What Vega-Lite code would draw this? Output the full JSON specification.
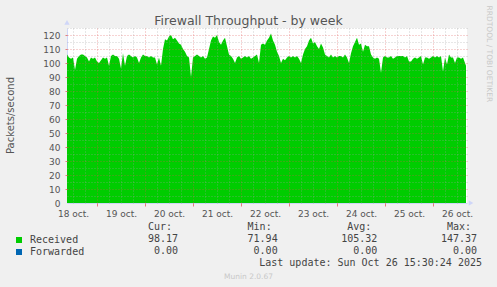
{
  "$schema": "https://vega.github.io/schema/vega-lite/v6.json",
  "width": 400,
  "height": 175,
  "autosize": "none",
  "padding": {"left": 67, "top": 28, "right": 30, "bottom": 84},
  "background": "#f0f0f0",
  "config": {
    "view": {"fill": "#ffffff", "stroke": null},
    "font": "DejaVu Sans",
    "axis": {"labelFont": "DejaVu Sans", "titleFont": "DejaVu Sans", "titleFontWeight": "normal"}
  },
  "datasets": {
    "rx": [
      {"t": "2025-10-18T09:00Z", "v": 106}, {"t": "2025-10-18T10:00Z", "v": 104}, {"t": "2025-10-18T11:00Z", "v": 103}, {"t": "2025-10-18T12:00Z", "v": 104}, {"t": "2025-10-18T13:00Z", "v": 95}, {"t": "2025-10-18T14:00Z", "v": 103}, {"t": "2025-10-18T15:00Z", "v": 105}, {"t": "2025-10-18T16:00Z", "v": 106}, {"t": "2025-10-18T17:00Z", "v": 106}, {"t": "2025-10-18T18:00Z", "v": 105}, {"t": "2025-10-18T19:00Z", "v": 104}, {"t": "2025-10-18T20:00Z", "v": 101}, {"t": "2025-10-18T21:00Z", "v": 104}, {"t": "2025-10-18T22:00Z", "v": 103}, {"t": "2025-10-18T23:00Z", "v": 104},
      {"t": "2025-10-19T00:00Z", "v": 101}, {"t": "2025-10-19T01:00Z", "v": 100}, {"t": "2025-10-19T02:00Z", "v": 102}, {"t": "2025-10-19T03:00Z", "v": 104}, {"t": "2025-10-19T04:00Z", "v": 103}, {"t": "2025-10-19T05:00Z", "v": 104}, {"t": "2025-10-19T06:00Z", "v": 98}, {"t": "2025-10-19T07:00Z", "v": 105}, {"t": "2025-10-19T08:00Z", "v": 106}, {"t": "2025-10-19T09:00Z", "v": 105}, {"t": "2025-10-19T10:00Z", "v": 105}, {"t": "2025-10-19T11:00Z", "v": 103}, {"t": "2025-10-19T12:00Z", "v": 96}, {"t": "2025-10-19T13:00Z", "v": 107}, {"t": "2025-10-19T14:00Z", "v": 98}, {"t": "2025-10-19T15:00Z", "v": 105}, {"t": "2025-10-19T16:00Z", "v": 106}, {"t": "2025-10-19T17:00Z", "v": 105}, {"t": "2025-10-19T18:00Z", "v": 104}, {"t": "2025-10-19T19:00Z", "v": 105}, {"t": "2025-10-19T20:00Z", "v": 104}, {"t": "2025-10-19T21:00Z", "v": 100}, {"t": "2025-10-19T22:00Z", "v": 104}, {"t": "2025-10-19T23:00Z", "v": 106},
      {"t": "2025-10-20T00:00Z", "v": 105}, {"t": "2025-10-20T01:00Z", "v": 105}, {"t": "2025-10-20T02:00Z", "v": 104}, {"t": "2025-10-20T03:00Z", "v": 105}, {"t": "2025-10-20T04:00Z", "v": 104}, {"t": "2025-10-20T05:00Z", "v": 104}, {"t": "2025-10-20T06:00Z", "v": 99}, {"t": "2025-10-20T07:00Z", "v": 104}, {"t": "2025-10-20T08:00Z", "v": 98}, {"t": "2025-10-20T09:00Z", "v": 110}, {"t": "2025-10-20T10:00Z", "v": 117}, {"t": "2025-10-20T11:00Z", "v": 116}, {"t": "2025-10-20T12:00Z", "v": 119}, {"t": "2025-10-20T13:00Z", "v": 120}, {"t": "2025-10-20T14:00Z", "v": 117}, {"t": "2025-10-20T15:00Z", "v": 118}, {"t": "2025-10-20T16:00Z", "v": 116}, {"t": "2025-10-20T17:00Z", "v": 114}, {"t": "2025-10-20T18:00Z", "v": 113}, {"t": "2025-10-20T19:00Z", "v": 110}, {"t": "2025-10-20T20:00Z", "v": 108}, {"t": "2025-10-20T21:00Z", "v": 105}, {"t": "2025-10-20T22:00Z", "v": 104}, {"t": "2025-10-20T23:00Z", "v": 90},
      {"t": "2025-10-21T00:00Z", "v": 104}, {"t": "2025-10-21T01:00Z", "v": 105}, {"t": "2025-10-21T02:00Z", "v": 106}, {"t": "2025-10-21T03:00Z", "v": 105}, {"t": "2025-10-21T04:00Z", "v": 104}, {"t": "2025-10-21T05:00Z", "v": 105}, {"t": "2025-10-21T06:00Z", "v": 103}, {"t": "2025-10-21T07:00Z", "v": 104}, {"t": "2025-10-21T08:00Z", "v": 110}, {"t": "2025-10-21T09:00Z", "v": 116}, {"t": "2025-10-21T10:00Z", "v": 119}, {"t": "2025-10-21T11:00Z", "v": 118}, {"t": "2025-10-21T12:00Z", "v": 120}, {"t": "2025-10-21T13:00Z", "v": 115}, {"t": "2025-10-21T14:00Z", "v": 113}, {"t": "2025-10-21T15:00Z", "v": 116}, {"t": "2025-10-21T16:00Z", "v": 118}, {"t": "2025-10-21T17:00Z", "v": 112}, {"t": "2025-10-21T18:00Z", "v": 106}, {"t": "2025-10-21T19:00Z", "v": 105}, {"t": "2025-10-21T20:00Z", "v": 103}, {"t": "2025-10-21T21:00Z", "v": 100}, {"t": "2025-10-21T22:00Z", "v": 104}, {"t": "2025-10-21T23:00Z", "v": 105},
      {"t": "2025-10-22T00:00Z", "v": 103}, {"t": "2025-10-22T01:00Z", "v": 104}, {"t": "2025-10-22T02:00Z", "v": 105}, {"t": "2025-10-22T03:00Z", "v": 104}, {"t": "2025-10-22T04:00Z", "v": 105}, {"t": "2025-10-22T05:00Z", "v": 103}, {"t": "2025-10-22T06:00Z", "v": 104}, {"t": "2025-10-22T07:00Z", "v": 105}, {"t": "2025-10-22T08:00Z", "v": 106}, {"t": "2025-10-22T09:00Z", "v": 100}, {"t": "2025-10-22T10:00Z", "v": 113}, {"t": "2025-10-22T11:00Z", "v": 114}, {"t": "2025-10-22T12:00Z", "v": 113}, {"t": "2025-10-22T13:00Z", "v": 116}, {"t": "2025-10-22T14:00Z", "v": 118}, {"t": "2025-10-22T15:00Z", "v": 121}, {"t": "2025-10-22T16:00Z", "v": 116}, {"t": "2025-10-22T17:00Z", "v": 113}, {"t": "2025-10-22T18:00Z", "v": 108}, {"t": "2025-10-22T19:00Z", "v": 105}, {"t": "2025-10-22T20:00Z", "v": 100}, {"t": "2025-10-22T21:00Z", "v": 103}, {"t": "2025-10-22T22:00Z", "v": 102}, {"t": "2025-10-22T23:00Z", "v": 104},
      {"t": "2025-10-23T00:00Z", "v": 105}, {"t": "2025-10-23T01:00Z", "v": 104}, {"t": "2025-10-23T02:00Z", "v": 105}, {"t": "2025-10-23T03:00Z", "v": 104}, {"t": "2025-10-23T04:00Z", "v": 105}, {"t": "2025-10-23T05:00Z", "v": 103}, {"t": "2025-10-23T06:00Z", "v": 100}, {"t": "2025-10-23T07:00Z", "v": 106}, {"t": "2025-10-23T08:00Z", "v": 110}, {"t": "2025-10-23T09:00Z", "v": 112}, {"t": "2025-10-23T10:00Z", "v": 116}, {"t": "2025-10-23T11:00Z", "v": 118}, {"t": "2025-10-23T12:00Z", "v": 114}, {"t": "2025-10-23T13:00Z", "v": 115}, {"t": "2025-10-23T14:00Z", "v": 112}, {"t": "2025-10-23T15:00Z", "v": 110}, {"t": "2025-10-23T16:00Z", "v": 114}, {"t": "2025-10-23T17:00Z", "v": 111}, {"t": "2025-10-23T18:00Z", "v": 106}, {"t": "2025-10-23T19:00Z", "v": 105}, {"t": "2025-10-23T20:00Z", "v": 104}, {"t": "2025-10-23T21:00Z", "v": 106}, {"t": "2025-10-23T22:00Z", "v": 104}, {"t": "2025-10-23T23:00Z", "v": 105},
      {"t": "2025-10-24T00:00Z", "v": 104}, {"t": "2025-10-24T01:00Z", "v": 105}, {"t": "2025-10-24T02:00Z", "v": 105}, {"t": "2025-10-24T03:00Z", "v": 104}, {"t": "2025-10-24T04:00Z", "v": 106}, {"t": "2025-10-24T05:00Z", "v": 104}, {"t": "2025-10-24T06:00Z", "v": 100}, {"t": "2025-10-24T07:00Z", "v": 107}, {"t": "2025-10-24T08:00Z", "v": 112}, {"t": "2025-10-24T09:00Z", "v": 115}, {"t": "2025-10-24T10:00Z", "v": 118}, {"t": "2025-10-24T11:00Z", "v": 113}, {"t": "2025-10-24T12:00Z", "v": 114}, {"t": "2025-10-24T13:00Z", "v": 108}, {"t": "2025-10-24T14:00Z", "v": 113}, {"t": "2025-10-24T15:00Z", "v": 112}, {"t": "2025-10-24T16:00Z", "v": 112}, {"t": "2025-10-24T17:00Z", "v": 106}, {"t": "2025-10-24T18:00Z", "v": 104}, {"t": "2025-10-24T19:00Z", "v": 103}, {"t": "2025-10-24T20:00Z", "v": 104}, {"t": "2025-10-24T21:00Z", "v": 103}, {"t": "2025-10-24T22:00Z", "v": 93}, {"t": "2025-10-24T23:00Z", "v": 104},
      {"t": "2025-10-25T00:00Z", "v": 105}, {"t": "2025-10-25T01:00Z", "v": 104}, {"t": "2025-10-25T02:00Z", "v": 104}, {"t": "2025-10-25T03:00Z", "v": 105}, {"t": "2025-10-25T04:00Z", "v": 103}, {"t": "2025-10-25T05:00Z", "v": 104}, {"t": "2025-10-25T06:00Z", "v": 105}, {"t": "2025-10-25T07:00Z", "v": 105}, {"t": "2025-10-25T08:00Z", "v": 105}, {"t": "2025-10-25T09:00Z", "v": 105}, {"t": "2025-10-25T10:00Z", "v": 104}, {"t": "2025-10-25T11:00Z", "v": 105}, {"t": "2025-10-25T12:00Z", "v": 101}, {"t": "2025-10-25T13:00Z", "v": 101}, {"t": "2025-10-25T14:00Z", "v": 103}, {"t": "2025-10-25T15:00Z", "v": 104}, {"t": "2025-10-25T16:00Z", "v": 103}, {"t": "2025-10-25T17:00Z", "v": 104}, {"t": "2025-10-25T18:00Z", "v": 105}, {"t": "2025-10-25T19:00Z", "v": 99}, {"t": "2025-10-25T20:00Z", "v": 104}, {"t": "2025-10-25T21:00Z", "v": 104}, {"t": "2025-10-25T22:00Z", "v": 103}, {"t": "2025-10-25T23:00Z", "v": 104},
      {"t": "2025-10-26T00:00Z", "v": 105}, {"t": "2025-10-26T01:00Z", "v": 104}, {"t": "2025-10-26T02:00Z", "v": 105}, {"t": "2025-10-26T03:00Z", "v": 104}, {"t": "2025-10-26T04:00Z", "v": 105}, {"t": "2025-10-26T05:00Z", "v": 94}, {"t": "2025-10-26T06:00Z", "v": 104}, {"t": "2025-10-26T07:00Z", "v": 99}, {"t": "2025-10-26T08:00Z", "v": 106}, {"t": "2025-10-26T09:00Z", "v": 104}, {"t": "2025-10-26T10:00Z", "v": 104}, {"t": "2025-10-26T11:00Z", "v": 100}, {"t": "2025-10-26T12:00Z", "v": 104}, {"t": "2025-10-26T13:00Z", "v": 104}, {"t": "2025-10-26T14:00Z", "v": 103}, {"t": "2025-10-26T15:00Z", "v": 104}, {"t": "2025-10-26T16:00Z", "v": 100}, {"t": "2025-10-26T16:30Z", "v": 98}
    ],
    "tbl": [
      {"row": "Received", "col": "Cur", "val": "98.17"},
      {"row": "Received", "col": "Min", "val": "71.94"},
      {"row": "Received", "col": "Avg", "val": "105.32"},
      {"row": "Received", "col": "Max", "val": "147.37"},
      {"row": "Forwarded", "col": "Cur", "val": "0.00"},
      {"row": "Forwarded", "col": "Min", "val": "0.00"},
      {"row": "Forwarded", "col": "Avg", "val": "0.00"},
      {"row": "Forwarded", "col": "Max", "val": "0.00"}
    ],
    "hdr": [
      {"col": "Cur", "h": "Cur:"},
      {"col": "Min", "h": "Min:"},
      {"col": "Avg", "h": "Avg:"},
      {"col": "Max", "h": "Max:"}
    ]
  },
  "layer": [
    {
      "data": {"name": "rx"},
      "mark": {"type": "area", "opacity": 1, "interpolate": "linear"},
      "encoding": {
        "x": {
          "field": "t", "type": "temporal",
          "scale": {"type": "utc", "domain": [{"year": 2025, "month": 10, "date": 18, "hours": 9, "utc": true}, {"year": 2025, "month": 10, "date": 26, "hours": 17, "utc": true}]},
          "axis": {
            "orient": "bottom",
            "values": [
              {"year": 2025, "month": 10, "date": 18, "hours": 12, "utc": true},
              {"year": 2025, "month": 10, "date": 19, "hours": 12, "utc": true},
              {"year": 2025, "month": 10, "date": 20, "hours": 12, "utc": true},
              {"year": 2025, "month": 10, "date": 21, "hours": 12, "utc": true},
              {"year": 2025, "month": 10, "date": 22, "hours": 12, "utc": true},
              {"year": 2025, "month": 10, "date": 23, "hours": 12, "utc": true},
              {"year": 2025, "month": 10, "date": 24, "hours": 12, "utc": true},
              {"year": 2025, "month": 10, "date": 25, "hours": 12, "utc": true},
              {"year": 2025, "month": 10, "date": 26, "hours": 12, "utc": true}
            ],
            "labelExpr": "utcFormat(datum.value, '%d') + ' oct.'",
            "labelFontSize": 9, "labelColor": "#555555", "labelPadding": 6,
            "labelFlush": false, "labelOverlap": false, "labelBound": false,
            "ticks": false, "grid": false, "domainColor": "#cfd6f8",
            "title": "Munin 2.0.67", "titleFontSize": 7.5, "titleColor": "#c8c8c8",
            "titleX": 181, "titleY": 73, "titleAlign": "center", "titleBaseline": "middle", "titleAngle": 0
          }
        },
        "y": {
          "field": "v", "type": "quantitative",
          "scale": {"domain": [0, 125], "nice": false, "zero": true},
          "axis": {
            "orient": "left",
            "values": [0, 10, 20, 30, 40, 50, 60, 70, 80, 90, 100, 110, 120],
            "labelFontSize": 9, "labelColor": "#555555", "labelPadding": 7,
            "ticks": false, "grid": false, "domainColor": "#cfd6f8",
            "title": "Packets/second", "titleFontSize": 10, "titleColor": "#555555",
            "titleX": -57, "titleY": 87, "titleAlign": "center", "titleBaseline": "middle", "titleAngle": -90
          }
        },
        "color": {
          "datum": "Received",
          "scale": {"domain": ["Received", "Forwarded"], "range": ["#00cc00", "#0066b3"]},
          "legend": {
            "orient": "none", "legendX": -53, "legendY": 207, "title": null,
            "direction": "vertical", "symbolType": "square", "symbolSize": 36,
            "symbolStrokeWidth": 0, "symbolOpacity": 1,
            "labelFont": "DejaVu Sans Mono", "labelFontSize": 10, "labelColor": "#444444",
            "labelOffset": 6, "rowPadding": 2, "padding": 0
          }
        }
      }
    },
    {
      "data": {"name": "rx"},
      "mark": {"type": "area", "opacity": 0},
      "encoding": {
        "x": {
          "field": "t", "type": "temporal",
          "scale": {"type": "utc", "domain": [{"year": 2025, "month": 10, "date": 18, "hours": 9, "utc": true}, {"year": 2025, "month": 10, "date": 26, "hours": 17, "utc": true}]},
          "axis": {
            "orient": "top",
            "values": [
              {"year": 2025, "month": 10, "date": 18, "hours": 12, "utc": true},
              {"year": 2025, "month": 10, "date": 18, "hours": 18, "utc": true},
              {"year": 2025, "month": 10, "date": 19, "hours": 6, "utc": true},
              {"year": 2025, "month": 10, "date": 19, "hours": 12, "utc": true},
              {"year": 2025, "month": 10, "date": 19, "hours": 18, "utc": true},
              {"year": 2025, "month": 10, "date": 20, "hours": 6, "utc": true},
              {"year": 2025, "month": 10, "date": 20, "hours": 12, "utc": true},
              {"year": 2025, "month": 10, "date": 20, "hours": 18, "utc": true},
              {"year": 2025, "month": 10, "date": 21, "hours": 6, "utc": true},
              {"year": 2025, "month": 10, "date": 21, "hours": 12, "utc": true},
              {"year": 2025, "month": 10, "date": 21, "hours": 18, "utc": true},
              {"year": 2025, "month": 10, "date": 22, "hours": 6, "utc": true},
              {"year": 2025, "month": 10, "date": 22, "hours": 12, "utc": true},
              {"year": 2025, "month": 10, "date": 22, "hours": 18, "utc": true},
              {"year": 2025, "month": 10, "date": 23, "hours": 6, "utc": true},
              {"year": 2025, "month": 10, "date": 23, "hours": 12, "utc": true},
              {"year": 2025, "month": 10, "date": 23, "hours": 18, "utc": true},
              {"year": 2025, "month": 10, "date": 24, "hours": 6, "utc": true},
              {"year": 2025, "month": 10, "date": 24, "hours": 12, "utc": true},
              {"year": 2025, "month": 10, "date": 24, "hours": 18, "utc": true},
              {"year": 2025, "month": 10, "date": 25, "hours": 6, "utc": true},
              {"year": 2025, "month": 10, "date": 25, "hours": 12, "utc": true},
              {"year": 2025, "month": 10, "date": 25, "hours": 18, "utc": true},
              {"year": 2025, "month": 10, "date": 26, "hours": 6, "utc": true},
              {"year": 2025, "month": 10, "date": 26, "hours": 12, "utc": true}
            ],
            "labels": false, "ticks": false, "domain": false,
            "grid": true, "gridColor": "#a0a0a0", "gridOpacity": 0.5, "gridDash": [1, 2], "zindex": 1,
            "title": "Firewall Throughput - by week", "titleFontSize": 12.5, "titleColor": "#555555",
            "titleX": 181, "titleY": -4, "titleAlign": "center", "titleBaseline": "alphabetic", "titleAngle": 0
          }
        },
        "y": {
          "field": "v", "type": "quantitative",
          "scale": {"domain": [0, 125], "nice": false, "zero": true},
          "axis": {
            "orient": "right",
            "values": [5, 15, 25, 35, 45, 55, 65, 75, 85, 95, 105, 115, 125],
            "labels": false, "ticks": false, "domain": false,
            "grid": true, "gridColor": "#a0a0a0", "gridOpacity": 0.5, "gridDash": [1, 2], "zindex": 1,
            "title": "RRDTOOL / TOBI OETIKER", "titleFontSize": 7.5, "titleColor": "#c8c8c8",
            "titleX": 21, "titleY": -23, "titleAlign": "left", "titleBaseline": "middle", "titleAngle": 90
          }
        }
      }
    },
    {
      "data": {"name": "rx"},
      "mark": {"type": "area", "opacity": 0},
      "encoding": {
        "x": {
          "field": "t", "type": "temporal",
          "scale": {"type": "utc", "domain": [{"year": 2025, "month": 10, "date": 18, "hours": 9, "utc": true}, {"year": 2025, "month": 10, "date": 26, "hours": 17, "utc": true}]},
          "axis": {
            "orient": "bottom",
            "values": [
              {"year": 2025, "month": 10, "date": 19, "utc": true},
              {"year": 2025, "month": 10, "date": 20, "utc": true},
              {"year": 2025, "month": 10, "date": 21, "utc": true},
              {"year": 2025, "month": 10, "date": 22, "utc": true},
              {"year": 2025, "month": 10, "date": 23, "utc": true},
              {"year": 2025, "month": 10, "date": 24, "utc": true},
              {"year": 2025, "month": 10, "date": 25, "utc": true},
              {"year": 2025, "month": 10, "date": 26, "utc": true}
            ],
            "labels": false, "domain": false,
            "ticks": true, "tickSize": 3, "tickColor": "#e06060", "tickOpacity": 0.8,
            "grid": true, "gridColor": "#e05050", "gridOpacity": 0.5, "gridDash": [1, 2], "zindex": 1,
            "title": null
          }
        },
        "y": {
          "field": "v", "type": "quantitative",
          "scale": {"domain": [0, 125], "nice": false, "zero": true},
          "axis": {
            "orient": "left",
            "values": [10, 20, 30, 40, 50, 60, 70, 80, 90, 100, 110, 120],
            "labels": false, "domain": false,
            "ticks": true, "tickSize": 2, "tickColor": "#e06060", "tickOpacity": 0.8,
            "grid": true, "gridColor": "#e05050", "gridOpacity": 0.5, "gridDash": [1, 2], "zindex": 1,
            "title": null
          }
        }
      }
    },
    {
      "data": {"name": "tbl"},
      "mark": {"type": "text", "align": "right", "baseline": "middle", "font": "DejaVu Sans Mono", "fontSize": 10, "color": "#444444"},
      "encoding": {
        "x": {"field": "col", "type": "nominal", "scale": {"type": "point", "domain": ["Cur", "Min", "Avg", "Max"], "range": [111, 410], "padding": 0}, "axis": null},
        "y": {"field": "row", "type": "nominal", "scale": {"type": "point", "domain": ["head", "Received", "Forwarded", "update"], "range": [199, 235], "padding": 0}, "axis": null},
        "text": {"field": "val"}
      }
    },
    {
      "data": {"name": "hdr"},
      "mark": {"type": "text", "align": "right", "baseline": "middle", "dx": -6, "font": "DejaVu Sans Mono", "fontSize": 10, "color": "#444444"},
      "encoding": {
        "x": {"field": "col", "type": "nominal", "scale": {"type": "point", "domain": ["Cur", "Min", "Avg", "Max"], "range": [111, 410], "padding": 0}, "axis": null},
        "y": {"datum": "head", "type": "nominal", "scale": {"type": "point", "domain": ["head", "Received", "Forwarded", "update"], "range": [199, 235], "padding": 0}, "axis": null},
        "text": {"field": "h"}
      }
    },
    {
      "data": {"values": [{"u": "Last update: Sun Oct 26 15:30:24 2025"}]},
      "mark": {"type": "text", "align": "right", "baseline": "middle", "dx": 5, "font": "DejaVu Sans Mono", "fontSize": 10, "color": "#444444"},
      "encoding": {
        "x": {"datum": "Max", "type": "nominal", "scale": {"type": "point", "domain": ["Cur", "Min", "Avg", "Max"], "range": [111, 410], "padding": 0}, "axis": null},
        "y": {"datum": "update", "type": "nominal", "scale": {"type": "point", "domain": ["head", "Received", "Forwarded", "update"], "range": [199, 235], "padding": 0}, "axis": null},
        "text": {"field": "u"}
      }
    },
    {
      "data": {"values": [{}]},
      "mark": {"type": "point", "shape": "triangle-right", "filled": true, "color": "#cfd6f8", "size": 28, "opacity": 1},
      "encoding": {
        "x": {"datum": {"year": 2025, "month": 10, "date": 26, "hours": 19, "utc": true}, "type": "temporal", "scale": {"type": "utc", "domain": [{"year": 2025, "month": 10, "date": 18, "hours": 9, "utc": true}, {"year": 2025, "month": 10, "date": 26, "hours": 17, "utc": true}]}, "axis": null},
        "y": {"datum": 0, "type": "quantitative", "scale": {"domain": [0, 125], "nice": false}, "axis": null}
      }
    },
    {
      "data": {"values": [{}]},
      "mark": {"type": "point", "shape": "triangle-up", "filled": true, "color": "#cfd6f8", "size": 28, "opacity": 1},
      "encoding": {
        "x": {"datum": {"year": 2025, "month": 10, "date": 18, "hours": 9, "utc": true}, "type": "temporal", "scale": {"type": "utc", "domain": [{"year": 2025, "month": 10, "date": 18, "hours": 9, "utc": true}, {"year": 2025, "month": 10, "date": 26, "hours": 17, "utc": true}]}, "axis": null},
        "y": {"datum": 129, "type": "quantitative", "scale": {"domain": [0, 125], "nice": false}, "axis": null}
      }
    }
  ],
  "resolve": {
    "scale": {"x": "independent", "y": "independent", "color": "independent"},
    "axis": {"x": "independent", "y": "independent"}
  }
}
